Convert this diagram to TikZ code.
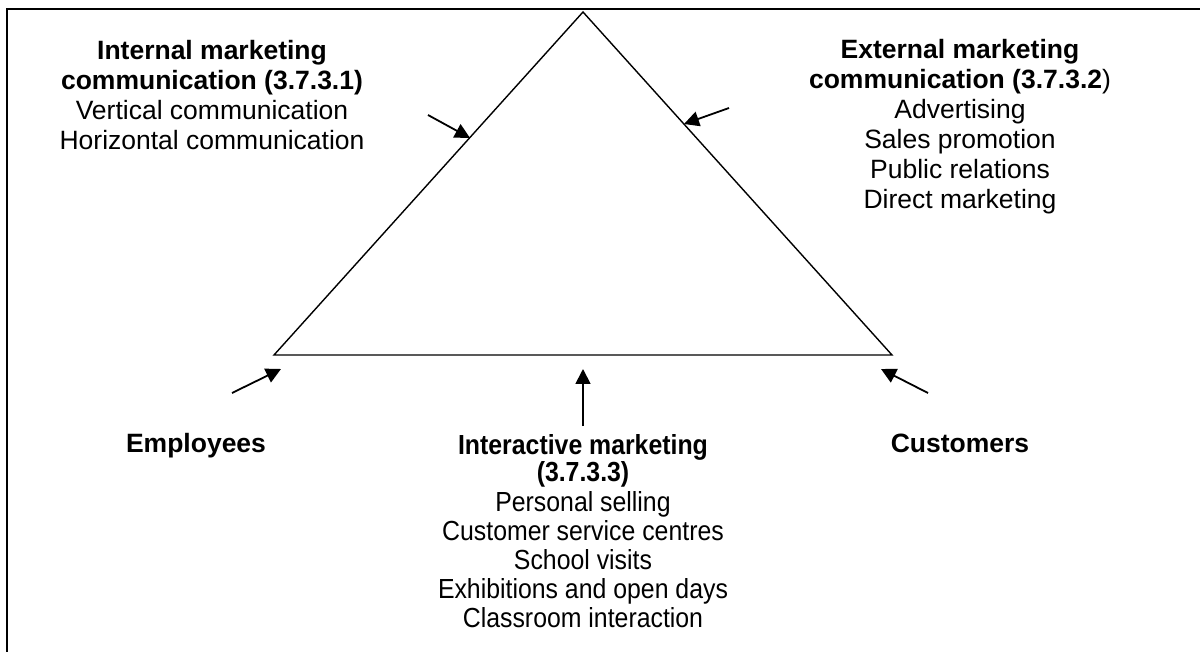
\documentclass[tikz,border=0pt]{standalone}
\usepackage{fontspec}
\setmainfont{Liberation Sans}
\newfontfamily\narrowfont[FakeStretch=0.9]{Liberation Sans}
\usetikzlibrary{arrows.meta}
\tikzset{
  frameline/.style={line width=1.2pt},
  triline/.style={line width=0.7pt, line join=miter},
  pointer/.style={line width=0.9pt, -{Triangle[length=7.5pt,width=7.5pt]}},
  txt/.style={align=center, anchor=base, inner sep=0pt, font=\fontsize{13.25}{15}\selectfont},
  ntxt/.style={align=center, anchor=base, inner sep=0pt, font=\narrowfont\fontsize{13.8}{14.5}\selectfont},
}
\begin{document}
\begin{tikzpicture}[x=0.5pt,y=-0.5pt]
\useasboundingbox (0,0) rectangle (1200,652);
% frame (only left and top visible)
\draw[frameline] (7,652) -- (7,9) -- (1200,9);
% triangle
\coordinate (apex) at (583,12);
\coordinate (bl) at (274,355);
\coordinate (br) at (892,355);
\draw[triline] (apex) -- (bl) -- (br) -- cycle;
% text blocks (anchor = baseline of last line)
\node[txt] (internal) at (212,150) {\textbf{Internal marketing}\\ \textbf{communication (3.7.3.1)}\\ Vertical communication\\ Horizontal communication};
\node[txt] (external) at (960,209) {\textbf{External marketing}\\ \textbf{communication (3.7.3.2}{)}\\ Advertising\\ Sales promotion\\ Public relations\\ Direct marketing};
\node[txt] (employees) at (196,452) {\textbf{Employees}};
\node[txt] (customers) at (960,452) {\textbf{Customers}};
\node[ntxt] (interactive) at (583,627) {\textbf{Interactive marketing}\\[-1pt] \textbf{(3.7.3.3)}\\[0.5pt] Personal selling\\ Customer service centres\\ School visits\\ Exhibitions and open days\\ Classroom interaction};
% arrow anchors
\coordinate (a1s) at (428,115);
\coordinate (a1e) at (470,138);
\coordinate (a2s) at (729,108);
\coordinate (a2e) at (684,124);
\coordinate (a3s) at (232,393);
\coordinate (a3e) at (281,369);
\coordinate (a4s) at (928,393);
\coordinate (a4e) at (881,369);
\coordinate (a5s) at (583,426);
\coordinate (a5e) at (583,369);
\draw[pointer] (a1s) -- (a1e);
\draw[pointer] (a2s) -- (a2e);
\draw[pointer] (a3s) -- (a3e);
\draw[pointer] (a4s) -- (a4e);
\draw[pointer] (a5s) -- (a5e);
\end{tikzpicture}
\end{document}
